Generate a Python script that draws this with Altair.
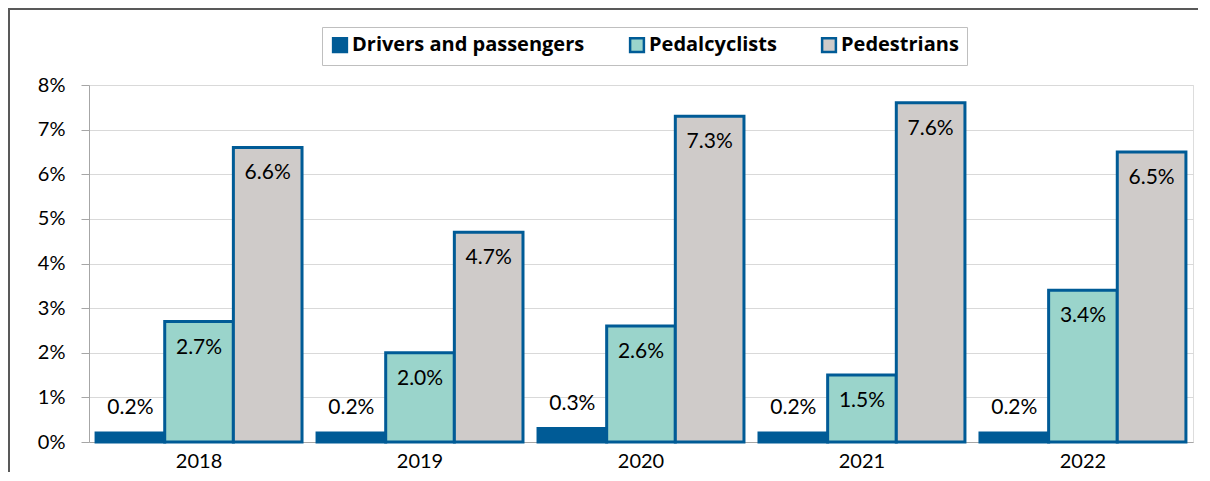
import altair as alt
import pandas as pd

years = ["2018", "2019", "2020", "2021", "2022"]
series = ["Drivers and passengers", "Pedalcyclists", "Pedestrians"]
drivers = [0.2, 0.2, 0.3, 0.2, 0.2]
pedalcyclists = [2.7, 2.0, 2.6, 1.5, 3.4]
pedestrians = [6.6, 4.7, 7.3, 7.6, 6.5]
colors = ["#005B96", "#9AD4CB", "#CFCBC9"]
y_ticks = [0, 1, 2, 3, 4, 5, 6, 7, 8]

rows = []
for i, yr in enumerate(years):
    for s, vals in zip(series, [drivers, pedalcyclists, pedestrians]):
        rows.append({"year": yr, "series": s, "value": vals[i], "label": f"{vals[i]:.1f}%"})
df = pd.DataFrame(rows)

FONT = "Lato"
W, H = 1104, 357

x = alt.X("year:N", sort=years, title=None,
          scale=alt.Scale(paddingInner=0.068, paddingOuter=0.032),
          axis=alt.Axis(labelFont=FONT, labelFontSize=20, labelColor="#000", labelPadding=9,
                        ticks=False, domainColor="#A6A6A6", domainWidth=1, labelAngle=0, grid=False))
xo = alt.XOffset("series:N", sort=series, scale=alt.Scale(paddingInner=0, paddingOuter=0))
y = alt.Y("value:Q", title=None, scale=alt.Scale(domain=[0, 8]),
          axis=alt.Axis(values=y_ticks, labelExpr="datum.value + '%'", labelFont=FONT,
                        labelFontSize=20, labelColor="#000", tickColor="#A6A6A6", tickSize=8,
                        labelPadding=16, domainColor="#A6A6A6", gridColor="#D9D9D9", gridWidth=1))

base = alt.Chart(df)

bars = base.mark_bar(stroke="#005B96", strokeWidth=3).encode(
    x=x, xOffset=xo, y=y,
    fill=alt.Fill("series:N", sort=series, scale=alt.Scale(domain=series, range=colors),
                  legend=alt.Legend(title=None, orient="none", legendX=233, legendY=-58,
                                    direction="horizontal", symbolType="square", symbolSize=190,
                                    symbolStrokeColor="#005B96", symbolStrokeWidth=2.5,
                                    symbolOpacity=1, labelFont="Open Sans", labelFontWeight="bold",
                                    labelFontSize=20, labelColor="#000", columnPadding=40,
                                    labelOffset=2, labelLimit=400, padding=8, fillColor="white",
                                    strokeColor="#BFBFBF")),
)

lbl_above = base.transform_filter(alt.datum.series == "Drivers and passengers").mark_text(
    font=FONT, fontSize=21, color="#000", baseline="middle", dy=-25
).encode(x=x, xOffset=xo, y=y, text="label:N")

lbl_inside = base.transform_filter(alt.datum.series != "Drivers and passengers").mark_text(
    font=FONT, fontSize=21, color="#000", baseline="middle", dy=26
).encode(x=x, xOffset=xo, y=y, text="label:N")

frame = alt.Chart(pd.DataFrame({"f": [0]})).mark_rect(
    fillOpacity=0, stroke="#595959", strokeWidth=2
).encode(x=alt.value(-80), x2=alt.value(W + 40), y=alt.value(-76), y2=alt.value(H + 60))

chart = alt.layer(frame, bars, lbl_above, lbl_inside).properties(
    width=W, height=H,
    autosize=alt.AutoSizeParams(type="none"),
    padding={"left": 81, "top": 77, "right": 5, "bottom": 30},
).configure_view(stroke=None).configure(background="white")

chart.save("out.html", embed_options={"renderer": "svg", "actions": False})
